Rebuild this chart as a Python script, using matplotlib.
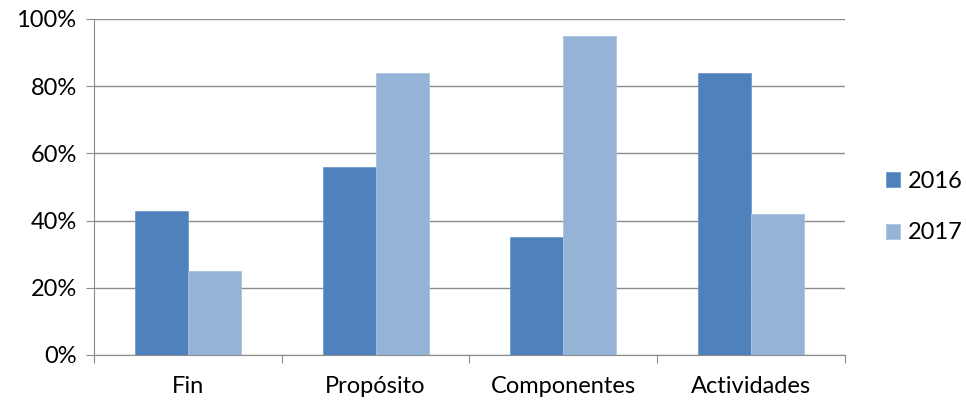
import numpy as np
import matplotlib.pyplot as plt
from matplotlib.ticker import PercentFormatter

categories = ["Fin", "Propósito", "Componentes", "Actividades"]
values_2016 = [43, 56, 35, 84]
values_2017 = [25, 84, 95, 42]
series_names = ["2016", "2017"]

plt.rcParams['font.family'] = ['Lato', 'DejaVu Sans']

fig = plt.figure(figsize=(9.66, 4.04), dpi=100)
ax = fig.add_axes([0.0973, 0.1213, 0.7774, 0.8317])

x = np.arange(len(categories))
w = 0.282
ax.bar(x - w / 2, values_2016, w, color="#4F81BD", edgecolor="#6F9AC9", linewidth=0.6, label=series_names[0], zorder=3)
ax.bar(x + w / 2, values_2017, w, color="#95B3D7", edgecolor="#A9C3E1", linewidth=0.6, label=series_names[1], zorder=3)

ax.set_xlim(-0.5, len(categories) - 0.5)
ax.set_ylim(0, 100)
ax.set_yticks(np.arange(0, 101, 20))
ax.yaxis.set_major_formatter(PercentFormatter(decimals=0))
ax.yaxis.grid(True, color="#8C8C8C", linewidth=1, zorder=0)

# category boundary ticks on the x axis
ax.set_xticks(np.arange(-0.5, len(categories)))
ax.set_xticklabels([])
ax.set_xticks(x, minor=True)
ax.set_xticklabels(categories, minor=True)
ax.tick_params(axis="x", which="major", length=6, color="#8C8C8C", direction="out")
ax.tick_params(axis="x", which="minor", length=0, pad=15, labelsize=17)
ax.tick_params(axis="y", length=6, color="#8C8C8C", labelsize=17, pad=6.5)

for s in ["top", "right"]:
    ax.spines[s].set_visible(False)
ax.spines["left"].set_color("#8C8C8C")
ax.spines["bottom"].set_color("#8C8C8C")

ax.legend(loc="center left", bbox_to_anchor=(1.055, 0.44), frameon=False,
          fontsize=17, handlelength=0.6, handleheight=0.6, handletextpad=0.3,
          labelspacing=1.3, borderaxespad=0, borderpad=0)

fig.savefig("out.png", dpi=100)
